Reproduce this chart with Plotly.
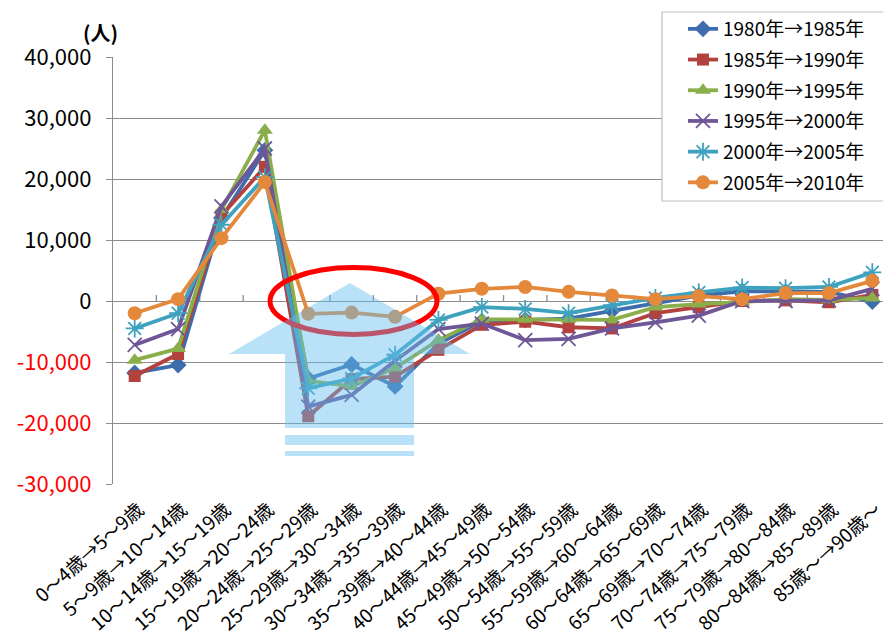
import plotly.graph_objects as go

categories = ["0～4歳→5～9歳", "5～9歳→10～14歳", "10～14歳→15～19歳", "15～19歳→20～24歳",
              "20～24歳→25～29歳", "25～29歳→30～34歳", "30～34歳→35～39歳", "35～39歳→40～44歳",
              "40～44歳→45～49歳", "45～49歳→50～54歳", "50～54歳→55～59歳", "55～59歳→60～64歳",
              "60～64歳→65～69歳", "65～69歳→70～74歳", "70～74歳→75～79歳", "75～79歳→80～84歳",
              "80～84歳→85～89歳", "85歳～→90歳～"]

series_names = ["1980年→1985年", "1985年→1990年", "1990年→1995年",
                "1995年→2000年", "2000年→2005年", "2005年→2010年"]

s1980 = [-11800, -10500, 13600, 24700, -12700, -10400, -14000, -7000, -3300, -3100, -2900, -1600, -300, 900, 1600, 1500, 1500, -100]
s1985 = [-12300, -8700, 14000, 22000, -18900, -12800, -12400, -8000, -3900, -3400, -4300, -4500, -2000, -1000, 0, 100, -200, 1000]
s1990 = [-9700, -7800, 15000, 28000, -13100, -14000, -11000, -6400, -3000, -3000, -3000, -3100, -1000, -500, -200, 300, 200, 500]
s1995 = [-7200, -4600, 15500, 25000, -17300, -15400, -9800, -4600, -3700, -6400, -6200, -4500, -3500, -2400, 0, 0, 100, 2000]
s2000 = [-4500, -2000, 12500, 20300, -14300, -12700, -8800, -3100, -1000, -1300, -2000, -700, 500, 1400, 2200, 2100, 2300, 4700]
s2005 = [-2000, 300, 10300, 19500, -2100, -1900, -2600, 1200, 2000, 2300, 1500, 900, 300, 800, 300, 1300, 1300, 3300]

y_ticks = [-30000, -20000, -10000, 0, 10000, 20000, 30000, 40000]

all_series = [s1980, s1985, s1990, s1995, s2000, s2005]
colors = ["#3E6DAD", "#B3413E", "#8AAE4A", "#6E5697", "#3EA2BF", "#E4883C"]
symbols = ["diamond", "square", "triangle-up", "x-thin", "asterisk", "circle"]
sizes = [13, 12, 14, 14, 15, 14]

FONT = "Noto Sans CJK JP"
OFF = 8  # page body margin of the browser
W, H = 891 - OFF, 640 - OFF
# plot area in screen pixels
L_s, R_s, T_s, B_s = 113, 891, 57, 484
L, R, T, B = L_s - OFF, R_s - OFF, T_s - OFF, B_s - OFF

def px(x):
    return (x - L_s) / (R_s - L_s)

def py(y):
    return (B_s - y) / (B_s - T_s)

fig = go.Figure()
xs = list(range(len(categories)))
for i, (name, vals) in enumerate(zip(series_names, all_series)):
    thin = symbols[i] in ("x-thin", "asterisk")
    fig.add_trace(go.Scatter(
        x=xs, y=vals, name=name, mode="lines+markers",
        legendgroup=name,
        line=dict(color=colors[i], width=3.8),
        marker=dict(symbol=symbols[i], size=sizes[i], color=colors[i],
                    line=dict(color=colors[i], width=1.8 if thin else 0)),
    ))

def tick_text(v):
    s = "{:,}".format(v)
    if v < 0:
        return "<span style='color:#FF0000'>" + s + "</span>"
    return s

shapes = []
# category tick marks on the zero line
for k in range(1, len(categories)):
    shapes.append(dict(type="line", xref="x", yref="y", x0=k - 0.5, x1=k - 0.5,
                       ysizemode="pixel", yanchor=0, y0=0, y1=6,
                       line=dict(color="#8C8C8C", width=1.3), layer="below"))

# red ellipse
shapes.append(dict(type="circle", xref="paper", yref="paper",
                   x0=px(270), x1=px(437), y0=py(334.5), y1=py(267.5),
                   line=dict(color="#FF0000", width=5), layer="above"))

# light blue arrow
pts = [(229, 354), (350, 283), (470, 354), (414, 354), (414, 428), (285, 428), (285, 354)]
path = "M " + " L ".join("{:.5f},{:.5f}".format(px(a), py(b)) for a, b in pts) + " Z"
shapes.append(dict(type="path", xref="paper", yref="paper", path=path,
                   fillcolor="rgba(100,190,240,0.45)", line=dict(width=0), layer="above"))
for (y0, y1) in [(435, 445), (451, 456)]:
    shapes.append(dict(type="rect", xref="paper", yref="paper",
                       x0=px(285), x1=px(414), y0=py(y1), y1=py(y0),
                       fillcolor="rgba(100,190,240,0.45)", line=dict(width=0), layer="above"))

# legend box
shapes.append(dict(type="rect", xref="paper", yref="paper",
                   x0=px(662), x1=px(890), y0=py(201), y1=py(12),
                   fillcolor="white", line=dict(color="#BFBFBF", width=1.2), layer="above"))

fig.update_layout(
    width=W, height=H,
    margin=dict(l=L, r=W - R, t=T, b=H - B, autoexpand=False),
    paper_bgcolor="white", plot_bgcolor="white",
    font=dict(family=FONT, color="black"),
    showlegend=True,
    legend=dict(x=px(683), y=py(10), xanchor="left", yanchor="top",
                bgcolor="rgba(0,0,0,0)", borderwidth=0,
                font=dict(family=FONT, size=19, color="black"),
                tracegroupgap=3, traceorder="grouped"),
    xaxis=dict(range=[-0.5, 17.43], tickmode="array", tickvals=xs, ticktext=categories,
               tickangle=-42, tickfont=dict(family=FONT, size=19, color="black"),
               showgrid=False, zeroline=False, showline=False, ticks="", automargin=False,
               ticklabelstandoff=10, ticklabelshift=4),
    yaxis=dict(range=[-30000, 40000], tickmode="array", tickvals=y_ticks,
               ticktext=[tick_text(v) for v in y_ticks],
               tickfont=dict(family=FONT, size=22, color="black"),
               showgrid=True, gridcolor="#8C8C8C", gridwidth=1.3,
               zeroline=True, zerolinecolor="#8C8C8C", zerolinewidth=1.3,
               showline=True, linecolor="#8C8C8C", linewidth=1.3,
               ticks="outside", ticklen=6, tickcolor="#8C8C8C", tickwidth=1.3,
               ticklabelstandoff=10, automargin=False),
    shapes=shapes,
    annotations=[dict(text="<b>(人)</b>", xref="paper", yref="paper", x=px(100), y=py(33),
                      xanchor="center", yanchor="middle", showarrow=False,
                      font=dict(family=FONT, size=20, color="black"))],
)

fig.write_html("out.html")
